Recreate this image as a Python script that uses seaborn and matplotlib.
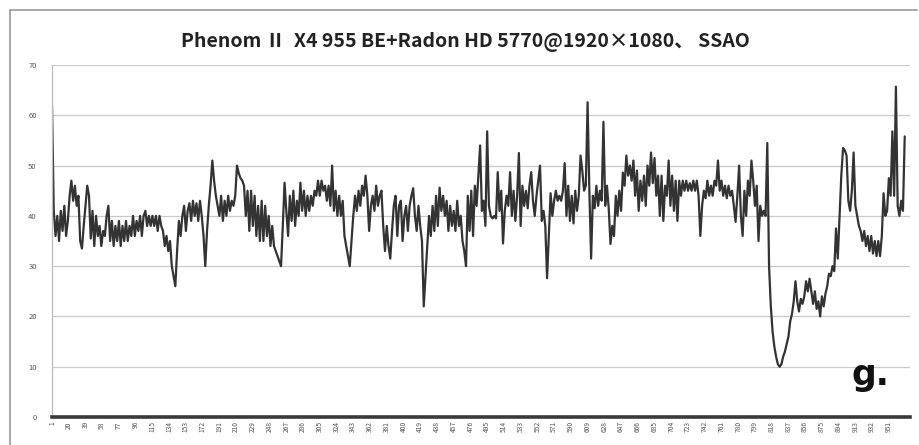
import matplotlib
matplotlib.use("Agg")
import matplotlib.pyplot as plt
import seaborn as sns
import pandas as pd
from matplotlib.lines import Line2D

# ---- data (one sample every 2 frames) ----
frame_start = 1
frame_step = 2
fps = [
    62, 41, 36, 40, 35, 41, 37, 42, 36, 39,
    44, 47, 43, 46, 42, 44, 35, 33.5, 38, 42,
    46, 44, 35.5, 41, 34, 40, 36, 38, 34, 37,
    36, 40, 42, 35, 39, 34, 38, 35, 39, 34,
    38, 35, 39, 35, 38, 36, 40, 36, 39, 37,
    40, 36, 40, 41, 38, 40, 38, 40, 38, 40,
    37, 40, 38, 37, 34, 36, 33, 35, 30, 28,
    26, 33, 39, 36, 40, 42, 37, 41, 42.5, 39,
    43, 40, 42.5, 39, 43, 40, 36, 30, 37, 42,
    46, 51, 47, 44, 42, 40, 44, 39, 43, 40,
    44, 41, 43, 42, 44, 50, 48.5, 47.5, 47, 46,
    40, 45, 37, 45, 38, 44, 36, 42, 35, 43,
    35, 42, 36, 40, 34, 38, 34, 33, 32, 31,
    30, 38, 46.6, 41, 36, 44, 39, 45, 38, 43,
    40, 46.6, 41, 45, 40, 44, 41, 44, 42, 45,
    44, 47, 44, 47, 45, 46, 43, 46, 42, 50,
    41, 45, 40, 44, 40, 43, 36, 34, 32, 30,
    35, 40, 44, 41, 45, 42, 46, 44, 48, 44,
    37, 42, 44, 41, 46, 42, 44, 45, 38, 33,
    38, 34, 31.5, 37, 42, 44, 36, 42, 43, 35,
    40, 42, 37, 42, 44, 45.5, 40, 37, 42, 38,
    35, 22, 28, 34, 40, 36, 42, 37, 44, 38,
    45.6, 41, 44, 40, 43, 37, 42, 38, 41, 37,
    43, 38, 40, 35, 33, 30, 44, 37, 45, 36,
    46, 42, 48, 54, 41, 43, 38, 56.8, 42, 40,
    39.5, 40, 39.5, 48.7, 41, 45, 34.5, 41, 44, 42,
    48.7, 40, 45, 39, 44, 52.5, 38, 46, 42, 45,
    41.5, 46, 48.7, 43, 40, 44, 47, 50, 39, 41,
    38, 27.6, 36, 44.5, 40, 43, 45, 43, 44, 43,
    45, 50.5, 40, 46, 39, 44, 38.5, 45, 41, 44,
    52, 49, 45, 46, 62.6, 45, 31.5, 44, 41.5, 46,
    42, 45, 43, 58.7, 42, 46, 41.5, 34.4, 38, 36,
    44, 40, 45, 41, 48.6, 46, 52, 48, 50, 47,
    51, 44, 49, 41, 47, 43, 48, 42, 50, 46,
    52.6, 46.5, 51.5, 44, 48, 40, 48, 39, 46, 44,
    51, 42, 48, 41, 47, 39, 47, 44, 47, 45,
    47, 45, 46.5, 45, 47, 45, 47, 44, 36, 42,
    45, 43.5, 47, 44, 46, 44, 47, 46, 51, 45,
    47, 44, 46, 43.5, 46, 44, 45, 42, 38.8, 44,
    50, 40, 36, 45, 40, 47, 44, 51, 47, 42,
    46, 35, 42, 40, 41, 40, 54.5, 30, 22, 17,
    14, 12, 10.5, 10, 10.5, 12, 13, 14.5, 16, 19,
    20.5, 23, 27, 23, 21, 23.5, 22.5, 24, 27, 25,
    27.5, 25, 22.5, 25, 21.5, 23, 20, 24, 22, 24.5,
    26, 28.5, 28, 30, 29, 37.5, 31.5, 40, 48, 53.5,
    53, 52, 43, 41, 45, 52.6, 42, 40, 38, 37,
    35, 37, 34, 36, 33, 36, 32.5, 35, 32, 35,
    32, 36, 44.5, 40, 41, 47.5, 44, 56.8, 44, 65.7,
    42, 40, 43, 41, 55.8,
]
frames = [frame_start + frame_step * i for i in range(len(fps))]
tick_frames = list(range(1, 952, 19))
tick_labels = [str(t) for t in tick_frames]
y_ticks = [0, 10, 20, 30, 40, 50, 60, 70]
title = "Phenom Ⅱ  X4 955 BE+Radon HD 5770@1920×1080、 SSAO"
mark_text = "g."

df = pd.DataFrame({"frame": frames, "fps": fps})

sns.set_style("white")
plt.rcParams["font.family"] = ["Noto Sans CJK SC", "DejaVu Sans"]

fig = plt.figure(figsize=(9.2, 4.45), dpi=100)
fig.patch.set_facecolor("white")

W, H = 920, 445
left, right, top, bottom = 52, 910, 65, 417
ax = fig.add_axes([left / W, 1 - bottom / H, (right - left) / W, (bottom - top) / H])

sns.lineplot(data=df, x="frame", y="fps", ax=ax, color="#333333", linewidth=1.6)

ax.set_xlim(1, 975)
ax.set_ylim(0, 70)
ax.set_yticks(y_ticks)
ax.set_yticklabels([str(v) for v in y_ticks], fontsize=5.5, color="#555555")
ax.set_xticks(tick_frames)
ax.set_xticklabels(tick_labels, rotation=90, fontsize=4.8, color="#555555")
ax.tick_params(axis="both", length=0, pad=3)
ax.tick_params(axis="y", pad=11)
ax.set_xlabel("")
ax.set_ylabel("")

for v in y_ticks[1:]:
    ax.axhline(v, color="#c9c9c9", linewidth=0.9, zorder=0)

for s in ["top", "right"]:
    ax.spines[s].set_visible(False)
ax.spines["left"].set_color("#bbbbbb")
ax.spines["left"].set_linewidth(0.9)
ax.spines["bottom"].set_color("#3a3a3a")
ax.spines["bottom"].set_linewidth(2.6)

fig.text(465 / W, 1 - 42 / H, title, ha="center", va="center",
         fontsize=14, fontweight="bold", color="#222222")
fig.text(870 / W, 1 - 375 / H, mark_text, ha="center", va="center",
         fontsize=25, fontweight="bold", color="#111111", family=["DejaVu Sans"])

# outer chart frame
fig.add_artist(Line2D([10 / W, 10 / W], [0, 1 - 10 / H], color="#999999", linewidth=1.2, transform=fig.transFigure))
fig.add_artist(Line2D([10 / W, 917 / W], [1 - 10 / H, 1 - 10 / H], color="#999999", linewidth=1.2, transform=fig.transFigure))

fig.savefig("out.png", dpi=100, facecolor="white")
